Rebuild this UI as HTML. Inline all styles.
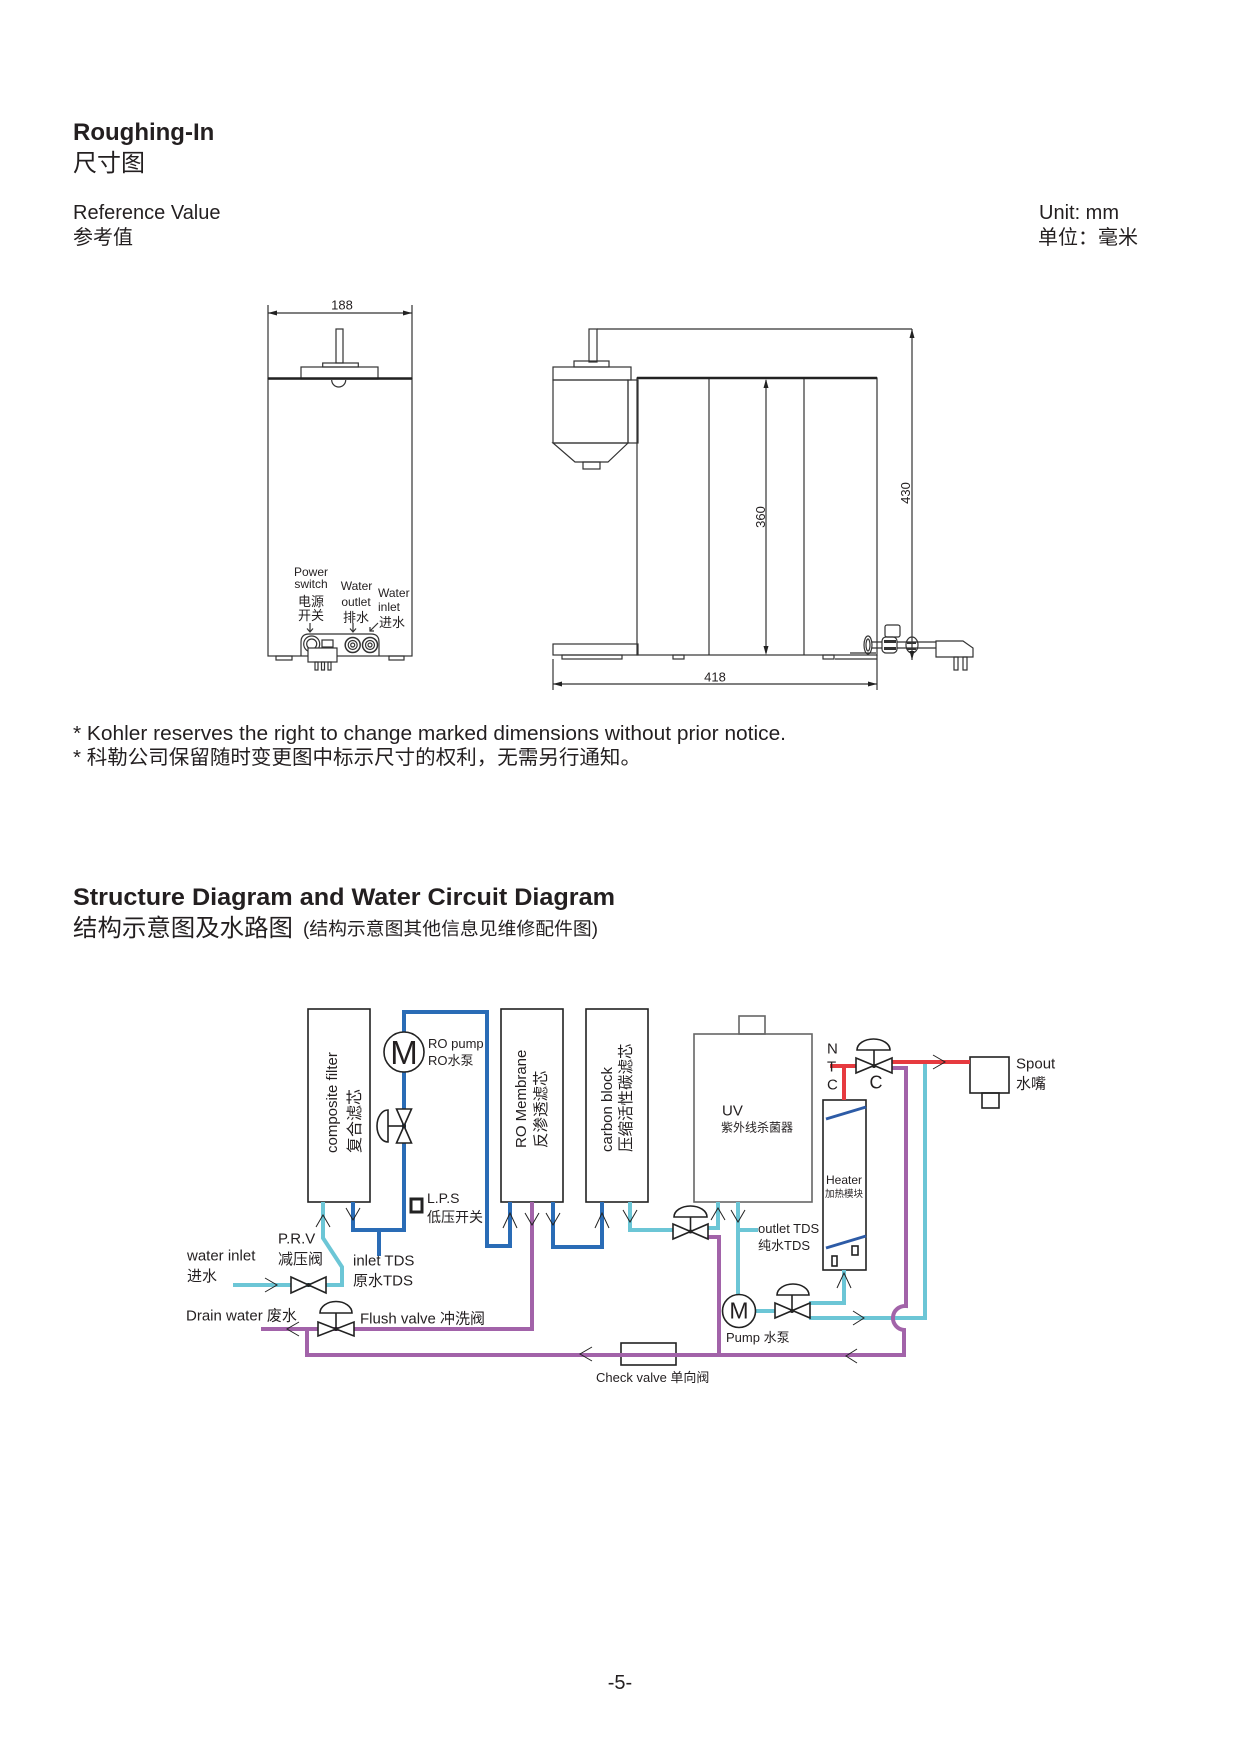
<!DOCTYPE html>
<html><head><meta charset="utf-8"><style>
html,body{margin:0;padding:0;background:#fff;}
svg{display:block;}
text{font-family:"Liberation Sans","Noto Sans CJK SC",sans-serif;fill:#231f20;}
</style></head><body>
<svg width="1240" height="1753" viewBox="0 0 1240 1753" xmlns="http://www.w3.org/2000/svg">
<!-- Header texts -->
<text x="73" y="140" font-size="24" font-weight="bold">Roughing-In</text>
<text x="73" y="171" font-size="24">尺寸图</text>
<text x="73" y="219" font-size="20">Reference Value</text>
<text x="73" y="244" font-size="20">参考值</text>
<text x="1039" y="219" font-size="20">Unit: mm</text>
<text x="1038" y="244" font-size="20">单位：毫米</text>

<!-- FRONT VIEW -->
<g stroke="#333" stroke-width="1.2" fill="none">
  <line x1="268" y1="305" x2="268" y2="379"/>
  <line x1="412" y1="305" x2="412" y2="379"/>
  <line x1="268" y1="313" x2="412" y2="313"/>
  <rect x="336" y="329" width="7" height="34"/>
  <rect x="322.7" y="363" width="35.6" height="4"/>
  <rect x="301" y="367" width="77" height="12"/>
  <rect x="268" y="379" width="144" height="277"/>
  <path d="M331.7 380 A7 7 0 0 0 345.7 380"/>
  <rect x="276" y="656" width="16" height="4"/>
  <rect x="389" y="656" width="15" height="4"/>
  <path d="M301 656 V642 Q301 634 309 634 H371 Q379 634 379 642 V656"/>
  <circle cx="311.7" cy="644" r="8"/>
  <circle cx="311.7" cy="644" r="5"/>
  <rect x="322" y="640" width="11" height="7"/>
  <circle cx="352.7" cy="645" r="7.5" stroke-width="1.5"/>
  <circle cx="352.7" cy="645" r="4.5"/>
  <circle cx="352.7" cy="645" r="2"/>
  <circle cx="370" cy="645" r="7.5" stroke-width="1.5"/>
  <circle cx="370" cy="645" r="4.5"/>
  <circle cx="370" cy="645" r="2"/>
  <rect x="308" y="648" width="29" height="14" fill="#fff"/>
  <rect x="315" y="662" width="3" height="8"/>
  <rect x="321.5" y="662" width="3" height="8"/>
  <rect x="328" y="662" width="3" height="8"/>
  <!-- label arrows -->
  <line x1="310" y1="623" x2="310" y2="632"/>
  <polyline points="307,628.5 310,632 313,628.5"/>
  <line x1="353" y1="623" x2="353" y2="632"/>
  <polyline points="350,628.5 353,632 356,628.5"/>
  <line x1="378" y1="623" x2="370" y2="631"/>
  <polyline points="370,627 370,631 374,631"/>
</g>
<line x1="268" y1="378.5" x2="412" y2="378.5" stroke="#222" stroke-width="2.5"/>
<polygon points="268,313 277,310.5 277,315.5" fill="#222"/>
<polygon points="412,313 403,310.5 403,315.5" fill="#222"/>
<text x="342" y="309.5" font-size="13" text-anchor="middle">188</text>
<g font-size="12">
  <text x="311" y="576" text-anchor="middle">Power</text>
  <text x="311" y="588" text-anchor="middle">switch</text>
  <text x="311" y="606" font-size="13" text-anchor="middle">电源</text>
  <text x="311" y="620" font-size="13" text-anchor="middle">开关</text>
  <text x="356.5" y="590" text-anchor="middle">Water</text>
  <text x="356" y="606" text-anchor="middle">outlet</text>
  <text x="356" y="622" font-size="13" text-anchor="middle">排水</text>
  <text x="378" y="597">Water</text>
  <text x="378" y="611">inlet</text>
  <text x="379" y="627" font-size="13">进水</text>
</g>

<!-- SIDE VIEW -->
<g stroke="#333" stroke-width="1.2" fill="none">
  <line x1="597" y1="329" x2="912" y2="329"/>
  <line x1="912" y1="329" x2="912" y2="660"/>
  <rect x="589" y="329" width="8" height="33"/>
  <rect x="574" y="361" width="35" height="6"/>
  <rect x="553" y="367" width="78" height="13"/>
  <rect x="553" y="380" width="75" height="63"/>
  <rect x="628" y="380" width="10" height="63"/>
  <polygon points="553,443 628,443 608,462 575,462"/>
  <rect x="583" y="462" width="17" height="7"/>
  <rect x="637" y="378" width="240" height="277"/>
  <line x1="709" y1="378" x2="709" y2="655"/>
  <line x1="804" y1="378" x2="804" y2="655"/>
  <line x1="766" y1="380" x2="766" y2="653"/>
  <rect x="553" y="644" width="85" height="11"/>
  <rect x="562" y="655" width="60" height="4"/>
  <rect x="673" y="655" width="11" height="4"/>
  <rect x="823" y="655" width="11" height="4"/>
  <line x1="835" y1="659" x2="877" y2="659"/>
  <line x1="553" y1="659" x2="553" y2="690"/>
  <line x1="877" y1="655" x2="877" y2="690"/>
  <line x1="553" y1="684" x2="877" y2="684"/>
  <!-- fitting -->
  <line x1="850" y1="653" x2="876" y2="653"/>
  <line x1="872" y1="642" x2="936" y2="642"/>
  <line x1="872" y1="648" x2="936" y2="648"/>
  <ellipse cx="868" cy="645" rx="4" ry="9"/>
  <ellipse cx="868" cy="645" rx="2" ry="6"/>
  <rect x="882" y="637" width="15" height="16" rx="4" fill="#fff"/>
  <rect x="885" y="625" width="15" height="12" rx="2"/>
  <ellipse cx="912" cy="645" rx="6" ry="8"/>
  <polygon points="936,641 963,641 973,648 973,657 936,657" fill="#fff"/>
  <rect x="954" y="657" width="4" height="13"/>
  <rect x="963" y="657" width="4" height="13"/>
</g>
<g fill="#333" stroke="none">
  <rect x="884" y="640" width="12" height="3"/>
  <rect x="884" y="647" width="12" height="3"/>
  <rect x="907" y="642" width="9" height="2"/>
  <rect x="907" y="648" width="9" height="2"/>
</g>
<line x1="637" y1="378" x2="877" y2="378" stroke="#222" stroke-width="2.5"/>
<polygon points="912,329 909.5,338 914.5,338" fill="#222"/>
<polygon points="912,660 909.5,651 914.5,651" fill="#222"/>
<polygon points="766,379 763.5,388 768.5,388" fill="#222"/>
<polygon points="766,655 763.5,646 768.5,646" fill="#222"/>
<polygon points="553,684 562,681.5 562,686.5" fill="#222"/>
<polygon points="877,684 868,681.5 868,686.5" fill="#222"/>
<text transform="translate(910,493) rotate(-90)" font-size="13" text-anchor="middle">430</text>
<text transform="translate(765,517) rotate(-90)" font-size="13" text-anchor="middle">360</text>
<text x="715" y="681.5" font-size="13" text-anchor="middle">418</text>

<!-- Notes -->
<text x="73" y="740" font-size="20" textLength="713" lengthAdjust="spacingAndGlyphs">* Kohler reserves the right to change marked dimensions without prior notice.</text>
<text x="73" y="764" font-size="20" textLength="568" lengthAdjust="spacingAndGlyphs">* 科勒公司保留随时变更图中标示尺寸的权利，无需另行通知。</text>

<!-- Section 2 heading -->
<text x="73" y="905" font-size="24" font-weight="bold" textLength="542" lengthAdjust="spacingAndGlyphs">Structure Diagram and Water Circuit Diagram</text>
<text x="73" y="936" font-size="24" textLength="220" lengthAdjust="spacingAndGlyphs">结构示意图及水路图</text>
<text x="303" y="935" font-size="18" textLength="295" lengthAdjust="spacingAndGlyphs">(结构示意图其他信息见维修配件图)</text>

<!-- CIRCUIT DIAGRAM -->
<!-- Boxes -->
<g stroke="#222" stroke-width="1.6" fill="none">
  <rect x="308" y="1009" width="62" height="193"/>
  <rect x="501" y="1009" width="62" height="193"/>
  <rect x="586" y="1009" width="62" height="193"/>
  <rect x="823" y="1100" width="43" height="170"/>
  <rect x="970" y="1057" width="39" height="36"/>
  <rect x="982" y="1093" width="17" height="15"/>
  <rect x="621" y="1343" width="55" height="22"/>
  <rect x="832" y="1256" width="5" height="10"/>
  <rect x="852" y="1246" width="6" height="9"/>
</g>
<g stroke="#666" stroke-width="1.6" fill="none">
  <rect x="694" y="1034" width="118" height="168"/>
  <rect x="739" y="1016" width="26" height="18"/>
</g>
<line x1="826" y1="1119" x2="866" y2="1107" stroke="#2d5ba6" stroke-width="3"/>
<line x1="826" y1="1248" x2="866" y2="1236" stroke="#2d5ba6" stroke-width="3"/>

<!-- Pipes -->
<g fill="none" stroke-width="4" stroke-linejoin="miter">
  <path stroke="#2a6cb6" d="M353 1202 V1230 H404 V1012 H487 V1246 H510 V1202"/>
  <path stroke="#2a6cb6" d="M379 1230 V1256"/>
  <path stroke="#2a6cb6" d="M553 1202 V1247 H602 V1202"/>
  <path stroke="#6cc6d6" d="M233 1285 H342 V1267 L323 1238 V1202"/>
  <path stroke="#6cc6d6" d="M630 1202 V1230 H674"/>
  <path stroke="#6cc6d6" d="M707 1228 H718 V1202"/>
  <path stroke="#6cc6d6" d="M738 1202 V1296"/>
  <path stroke="#6cc6d6" d="M738 1230 H758"/>
  <path stroke="#6cc6d6" d="M755 1311 H776"/>
  <path stroke="#6cc6d6" d="M809 1303 H844 V1270"/>
  <path stroke="#6cc6d6" d="M809 1318 H925 V1063"/>
  <path stroke="#a263a9" d="M261 1329 H532 V1202"/>
  <path stroke="#a263a9" d="M307 1329 V1355 H904 V1330 A12 12 0 0 1 906 1306 V1068 H891"/>
  <path stroke="#a263a9" d="M707 1237 H719 V1355"/>
  <path stroke="#e63a3f" d="M830 1066 H857"/>
  <path stroke="#e63a3f" d="M844 1066 V1100"/>
  <path stroke="#e63a3f" d="M891 1062 H970"/>
</g>

<!-- Flow arrows -->
<g fill="none" stroke="#222" stroke-width="1">
  <polyline points="316,1227 323,1215 330,1227"/>
  <polyline points="346,1208 353,1220 360,1208"/>
  <polyline points="265,1278 277,1285 265,1292"/>
  <polyline points="299,1322 287,1329 299,1336"/>
  <polyline points="503,1228 510,1213 517,1228"/>
  <polyline points="525,1213 532,1225 539,1213"/>
  <polyline points="546,1213 553,1225 560,1213"/>
  <polyline points="595,1228 602,1213 609,1228"/>
  <polyline points="623,1210 630,1222 637,1210"/>
  <polyline points="711,1220 718,1208 725,1220"/>
  <polyline points="731,1210 738,1222 745,1210"/>
  <polyline points="592,1347 580,1354 592,1361"/>
  <polyline points="837,1288 844,1273 851,1288"/>
  <polyline points="853,1311 864,1318 853,1325"/>
  <polyline points="857,1349 846,1356 857,1363"/>
  <polyline points="933,1055 945,1062 933,1069"/>
</g>

<!-- Valves -->
<g stroke="#222" stroke-width="1.6" fill="#fff">
  <!-- RO vertical valve -->
  <path d="M388 1110 A11 16 0 0 0 388 1142 Z"/>
  <line x1="388" y1="1126" x2="404" y2="1126"/>
  <path d="M396.5 1109 L411.5 1143 L396.5 1143 L411.5 1109 Z"/>
  <!-- PRV -->
  <path d="M291 1277 L326 1293 L326 1277 L291 1293 Z"/>
  <!-- Flush valve -->
  <path d="M320 1313 A16 11.5 0 0 1 352 1313 Z"/>
  <line x1="336" y1="1313" x2="336" y2="1329"/>
  <path d="M318 1322 L354 1336 L354 1322 L318 1336 Z"/>
  <!-- valve 2 -->
  <path d="M674 1217 A16.5 11 0 0 1 707 1217 Z"/>
  <line x1="690.5" y1="1217" x2="690.5" y2="1231.5"/>
  <path d="M673 1224 L708 1239 L708 1224 L673 1239 Z"/>
  <!-- valve 3 -->
  <path d="M777 1295 A16 11 0 0 1 809 1295 Z"/>
  <line x1="792" y1="1295" x2="792" y2="1311"/>
  <path d="M775 1303 L810 1318 L810 1303 L775 1318 Z"/>
  <!-- NTC valve -->
  <path d="M857 1050 A16.5 11 0 0 1 890 1050 Z"/>
  <line x1="874" y1="1050" x2="874" y2="1066"/>
  <path d="M856 1058 L892 1073 L892 1058 L856 1073 Z"/>
  <!-- pumps -->
  <circle cx="404" cy="1052" r="20"/>
  <circle cx="739" cy="1311" r="16.5"/>
  <!-- LPS -->
  <rect x="411" y="1199" width="11" height="13" stroke-width="3"/>
</g>
<g fill="#222">
  <circle cx="308.5" cy="1285" r="2"/>
  <circle cx="336" cy="1329" r="2"/>
  <circle cx="690.5" cy="1231.5" r="2"/>
  <circle cx="792" cy="1311" r="2"/>
  <circle cx="874" cy="1066" r="2"/>
  <circle cx="404" cy="1126" r="2"/>
</g>
<text x="404" y="1064" font-size="33" text-anchor="middle">M</text>
<text x="739" y="1318.5" font-size="23" text-anchor="middle">M</text>

<!-- Rotated box labels -->
<text transform="translate(337,1153) rotate(-90)" font-size="15">composite filter</text>
<text transform="translate(360,1153) rotate(-90)" font-size="16">复合滤芯</text>
<text transform="translate(526,1148) rotate(-90)" font-size="15">RO Membrane</text>
<text transform="translate(546,1148) rotate(-90)" font-size="15.5">反渗透滤芯</text>
<text transform="translate(612,1152) rotate(-90)" font-size="15">carbon block</text>
<text transform="translate(631,1152) rotate(-90)" font-size="15.5">压缩活性碳滤芯</text>

<!-- Circuit labels -->
<text x="428" y="1048" font-size="13">RO pump</text>
<text x="428" y="1065" font-size="13">RO水泵</text>
<text x="427" y="1203" font-size="14">L.P.S</text>
<text x="427" y="1222" font-size="14">低压开关</text>
<text x="278" y="1243.5" font-size="15">P.R.V</text>
<text x="278" y="1264" font-size="15">减压阀</text>
<text x="187" y="1260.5" font-size="15">water inlet</text>
<text x="187" y="1281" font-size="15">进水</text>
<text x="353" y="1265.5" font-size="15">inlet TDS</text>
<text x="353" y="1285.5" font-size="15">原水TDS</text>
<text x="186" y="1320.5" font-size="15">Drain water 废水</text>
<text x="360" y="1323.5" font-size="15">Flush valve 冲洗阀</text>
<text x="722" y="1115.5" font-size="15">UV</text>
<text x="721" y="1131.5" font-size="12">紫外线杀菌器</text>
<text x="758" y="1233" font-size="13">outlet TDS</text>
<text x="758" y="1250" font-size="13">纯水TDS</text>
<text x="726" y="1342" font-size="13">Pump 水泵</text>
<text x="596" y="1382" font-size="13">Check valve 单向阀</text>
<text x="826" y="1184" font-size="12">Heater</text>
<text x="825" y="1197" font-size="9.5">加热模块</text>
<text x="827" y="1053.5" font-size="15">N</text>
<text x="827" y="1071.5" font-size="15">T</text>
<text x="827" y="1089.5" font-size="15">C</text>
<text x="876" y="1088.5" font-size="18" text-anchor="middle">C</text>
<text x="1016" y="1068.5" font-size="15">Spout</text>
<text x="1016" y="1088.5" font-size="15">水嘴</text>

<!-- Page number -->
<text x="620" y="1689" font-size="20" text-anchor="middle">-5-</text>
</svg>
</body></html>
